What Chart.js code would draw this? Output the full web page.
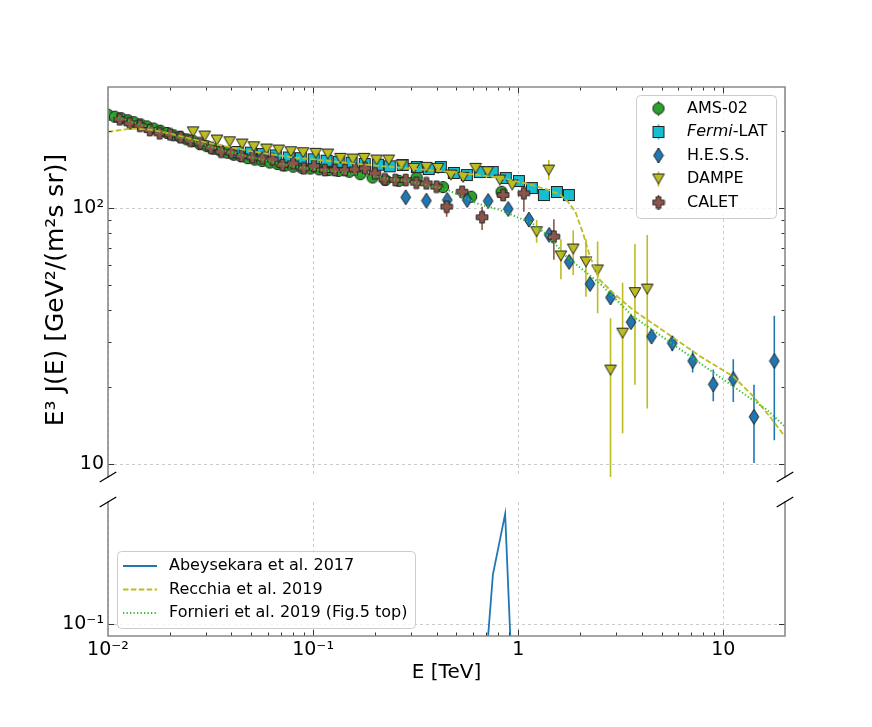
<!DOCTYPE html>
<html><head><meta charset="utf-8">
<script src="https://cdn.jsdelivr.net/npm/chart.js@4.4.1/dist/chart.umd.min.js"></script>
<style>
html,body{margin:0;padding:0;background:#fff;}
#wrap{position:relative;width:872px;height:727px;overflow:hidden;background:#fff;}
canvas{position:absolute;left:0;}
#c1{top:0;} #c2{top:490px;}
</style></head><body>
<div id="wrap"><canvas id="c1" width="872" height="490"></canvas><canvas id="c2" width="872" height="237"></canvas></div>
<script>
// ---------------- DATA (E in TeV, E^3 J(E) in GeV^2/(m^2 s sr)) ----------------
const amsE = [0.0100,0.0108,0.0116,0.0125,0.0134,0.0144,0.0155,0.0167,0.0180,0.0194,0.0209,0.0225,0.0242,0.0261,0.0281,0.0303,0.0327,0.0353,0.0381,0.0411,0.0444,0.0480,0.0520,0.0565,0.0615,0.0670,0.0730,0.0800,0.0880,0.0970,0.1070,0.1190,0.1330,0.1500,0.1700,0.1950,0.2250,0.2620,0.3200,0.4300,0.5900,0.8300];
const amsF = [232,228,225,221,217,213,209,205,201,197,193,190,186,183,178,175,171,168,165,162,160,157,155,153,151,149,147,145.5,144,143,142,141,140,139,136,132,129,128,132,121,111,116];

const fermiE = [0.0429,0.0497,0.0568,0.0658,0.0761,0.0871,0.1007,0.1164,0.1333,0.154,0.1786,0.207,0.2364,0.2735,0.3206,0.3666,0.4197,0.4855,0.5619,0.650,0.7516,0.8703,1.008,1.166,1.335,1.545,1.767];
const fermiF = [166,165,163,161,158,157,155.5,153.5,152,150.7,149,148,146,147.6,145,142.4,145,137.4,134.9,138.6,138.6,131.3,127.8,120,112.7,115.8,112.7];

const hessE  = [0.283,0.357,0.451,0.564,0.714,0.894,1.128,1.416,1.773,2.24,2.82,3.55,4.47,5.64,7.09,8.94,11.19,14.12,17.74];
const hessF  = [110.4,107.1,107.8,107.8,106.8,99.4,90.3,78.7,61.7,50.6,44.8,35.9,31.5,29.7,25.3,20.5,21.5,15.3,25.3];
const hessLo = [null,null,null,null,null,null,null,null,null,null,null,null,null,27.6,22.8,17.6,17.5,10.1,12.4];
const hessHi = [null,null,null,null,null,null,null,null,null,null,null,null,null,31.6,27.8,23.4,25.7,20.4,38.0];

const dampeE  = [0.026,0.0296,0.034,0.0392,0.0451,0.0514,0.0593,0.068,0.0779,0.0894,0.103,0.118,0.136,0.156,0.1774,0.204,0.234,0.270,0.310,0.357,0.407,0.470,0.539,0.620,0.709,0.814,0.935,1.23,1.41,1.616,1.855,2.14,2.44,2.82,3.23,3.71,4.26];
const dampeF  = [199,191.6,184.9,182,178.3,174,170.5,169,166.4,164.9,164,163,156.8,155.8,156.8,154.4,154.4,147.6,143.3,144.6,143.3,134.9,132.2,143.3,139,129,123.3,81,141,65.1,69.3,61.7,57.4,23.3,32.5,46.8,48.3];
const dampeLo = [null,null,null,null,null,null,null,null,null,null,null,null,null,null,null,null,null,null,null,null,null,null,null,null,null,null,null,73.4,129,52.8,54.9,45.1,38.9,8.5,13.2,20.4,16.5];
const dampeHi = [null,null,null,null,null,null,null,null,null,null,null,null,null,null,null,null,null,null,null,null,null,null,null,null,null,null,null,90,154.4,75.7,81.8,75.7,74.1,37.2,51.2,72.5,78.7];

const caletE  = [0.0114,0.01276,0.0143,0.01597,0.01786,0.0201,0.0226,0.0252,0.0282,0.0317,0.0357,0.04,0.0448,0.0506,0.0566,0.0634,0.0709,0.0799,0.0901,0.101,0.114,0.1276,0.1428,0.16,0.179,0.200,0.2235,0.252,0.283,0.319,0.357,0.400,0.448,0.533,0.667,0.845,1.066,1.493];
const caletF  = [222.7,214.8,210.2,202.2,196.3,194.5,189.4,183.7,179.4,172.5,166.4,164.9,160.1,158.2,156.8,155.4,147.6,149.9,143.3,146.3,141.1,141.1,141.1,142,143.3,137,129.8,129,129,125.9,125.2,121.5,101.5,116.1,92.2,112.7,114.4,77.5];
const caletLo = [null,null,null,null,null,null,null,null,null,null,null,null,null,null,null,null,null,null,null,null,null,null,null,null,null,null,null,null,null,null,null,null,92.7,null,82.3,null,97,62.9];
const caletHi = [null,null,null,null,null,null,null,null,null,null,null,null,null,null,null,null,null,null,null,null,null,null,null,null,null,null,null,null,null,null,null,null,112.7,null,101.4,null,132.9,90.6];

const recchiaE = [0.010,0.013,0.016,0.020,0.030,0.050,0.080,0.120,0.200,0.300,0.500,0.800,1.10,1.40,1.60,1.75,1.90,2.07,2.24,2.50,2.91,3.64,5.30,7.70,11.2,14.0,16.9,20.0];
const recchiaF = [199,205,203,196,181,167,158,153,147,143,138,132,125,118,113,106,97,80,64.7,52.5,46.6,40,32.5,26.4,22.0,18.4,15.3,12.8];

const fornieriE = [0.010,0.020,0.030,0.050,0.080,0.120,0.200,0.300,0.454,0.627,0.814,1.00,1.18,1.40,1.72,2.50,3.64,5.30,7.70,11.2,16.3,20.0];
const fornieriF = [233,196,176,158,146,140,133,127,118,104.6,98.5,92,87,78,64.7,50.9,37.7,30.6,24.8,20.1,16.3,14.0];

const abeyE = [0.70,0.753,0.864,0.93];
const abeyF = [0.085,0.127,0.170,0.080];

// ticks
const xTicksAll = [0.01,0.02,0.03,0.04,0.05,0.06,0.07,0.08,0.09,0.1,0.2,0.3,0.4,0.5,0.6,0.7,0.8,0.9,1,2,3,4,5,6,7,8,9,10,20];
const xTicksMajor = [0.01,0.1,1,10];
const xTickLabels = ['10⁻²','10⁻¹','1','10'];
const yTopTicksAll = [10,20,30,40,50,60,70,80,90,100,200];
const yTopMajor = [10,100];
const yTopLabels = ['10','10²'];
const yBotTicks = [0.1];
const yBotLabels = ['10⁻¹'];
const yTitle = 'E³ J(E) [GeV²/(m²s sr)]';
const xTitle = 'E [TeV]';

// ---------------- STYLE ----------------
const FAM = "'DejaVu Sans', sans-serif";
Chart.defaults.font.family = FAM;
const GRID = '#bdbdbd', SPINE = '#8a8a8a', TICKC = '#333', EDGE = '#222';
const C = {ams:'#2ca02c', fermi:'#17becf', hess:'#1f77b4', dampe:'#bcbd22', calet:'#8c564b', forn:'#35c035'};

function mk(w,h,draw){const c=document.createElement('canvas');c.width=w;c.height=h;const g=c.getContext('2d');g.lineWidth=1;g.strokeStyle=EDGE;draw(g);return c;}
const mCircle = mk(14,14,g=>{g.beginPath();g.arc(7,7,5.6,0,2*Math.PI);g.fillStyle=C.ams;g.fill();g.stroke();});
const mSquare = mk(14,14,g=>{g.fillStyle=C.fermi;g.fillRect(1.5,1.5,11,11);g.strokeRect(1.5,1.5,11,11);});
const mDiamond = mk(12,17,g=>{g.beginPath();g.moveTo(6,1);g.lineTo(10.8,8.5);g.lineTo(6,16);g.lineTo(1.2,8.5);g.closePath();g.fillStyle=C.hess;g.fill();g.stroke();});
const mTri = mk(14,13,g=>{g.beginPath();g.moveTo(1.2,1.5);g.lineTo(12.8,1.5);g.lineTo(7,11.5);g.closePath();g.fillStyle=C.dampe;g.fill();g.stroke();});
const mPlus = mk(14,14,g=>{const c=7,a=2.3,b=5.8;g.beginPath();
  g.moveTo(c-a,c-b);g.lineTo(c+a,c-b);g.lineTo(c+a,c-a);g.lineTo(c+b,c-a);g.lineTo(c+b,c+a);g.lineTo(c+a,c+a);
  g.lineTo(c+a,c+b);g.lineTo(c-a,c+b);g.lineTo(c-a,c+a);g.lineTo(c-b,c+a);g.lineTo(c-b,c-a);g.lineTo(c-a,c-a);g.closePath();
  g.fillStyle=C.calet;g.fill();g.stroke();});

function pts(E,F){return E.map((e,i)=>({x:e,y:F[i]}));}

// ---------------- PLUGINS ----------------
const errPlugin = {id:'errbars', beforeDatasetsDraw(chart){
  const {ctx, chartArea:a, scales:{x,y}} = chart;
  ctx.save(); ctx.beginPath(); ctx.rect(a.left,a.top,a.right-a.left,a.bottom-a.top); ctx.clip();
  chart.data.datasets.forEach(ds=>{
    if(!ds.errLo) return;
    ctx.strokeStyle=ds.errColor; ctx.lineWidth=1.6; ctx.beginPath();
    ds.data.forEach((p,i)=>{const lo=ds.errLo[i],hi=ds.errHi[i]; if(lo==null||hi==null) return;
      const px=x.getPixelForValue(p.x); ctx.moveTo(px,y.getPixelForValue(lo)); ctx.lineTo(px,y.getPixelForValue(hi));});
    ctx.stroke();
  });
  ctx.restore();
}};

function framePlugin(o){ return {id:'frame_'+o.name, afterDraw(chart){
  const {ctx, chartArea:a, scales:{x,y}} = chart;
  ctx.save();
  ctx.strokeStyle=TICKC; ctx.lineWidth=1; ctx.beginPath();
  x.ticks.forEach(t=>{const v=t.value; const px=Math.round(x.getPixelForValue(v))+0.5;
    if(px<a.left+1||px>a.right-1) return; const L=xTicksMajor.includes(v)?6:3.5;
    if(o.xTop){ctx.moveTo(px,a.top);ctx.lineTo(px,a.top+L);}
    if(o.xBottom){ctx.moveTo(px,a.bottom);ctx.lineTo(px,a.bottom-L);} });
  y.ticks.forEach(t=>{const v=t.value; const py=Math.round(y.getPixelForValue(v))+0.5;
    if(py<a.top+1||py>a.bottom-1) return; const L=o.yMajor.includes(v)?6:3.5;
    ctx.moveTo(a.left,py);ctx.lineTo(a.left+L,py);ctx.moveTo(a.right,py);ctx.lineTo(a.right-L,py);});
  ctx.stroke();
  ctx.strokeStyle=SPINE; ctx.lineWidth=1.6; ctx.lineCap='square'; ctx.beginPath();
  ctx.moveTo(a.left,a.top);ctx.lineTo(a.left,a.bottom);ctx.moveTo(a.right,a.top);ctx.lineTo(a.right,a.bottom);
  if(o.xTop){ctx.moveTo(a.left,a.top);ctx.lineTo(a.right,a.top);}
  if(o.xBottom){ctx.moveTo(a.left,a.bottom);ctx.lineTo(a.right,a.bottom);}
  ctx.stroke();
  const by = o.breakAt==='bottom'?a.bottom:a.top;
  ctx.strokeStyle='#000'; ctx.lineWidth=1.3; ctx.lineCap='butt'; ctx.beginPath();
  [a.left,a.right].forEach(bx=>{ctx.moveTo(bx-8.3,by+5);ctx.lineTo(bx+8.3,by-5);});
  ctx.stroke();
  if(o.ylabel){ctx.save();ctx.translate(56,290);ctx.rotate(-Math.PI/2);ctx.fillStyle='#000';ctx.font='25px '+FAM;
    ctx.textAlign='center';ctx.textBaseline='middle';ctx.fillText(o.ylabel,0,0);ctx.restore();}
  if(o.legend) o.legend(ctx);
  ctx.restore();
}};}

function rrect(ctx,x,y,w,h,r){ctx.beginPath();ctx.moveTo(x+r,y);ctx.lineTo(x+w-r,y);ctx.arcTo(x+w,y,x+w,y+r,r);ctx.lineTo(x+w,y+h-r);ctx.arcTo(x+w,y+h,x+w-r,y+h,r);ctx.lineTo(x+r,y+h);ctx.arcTo(x,y+h,x,y+h-r,r);ctx.lineTo(x,y+r);ctx.arcTo(x,y,x+r,y,r);ctx.closePath();}

function legendTop(ctx){
  rrect(ctx,636.5,95.5,140,123,4); ctx.fillStyle='rgba(255,255,255,0.8)'; ctx.fill(); ctx.strokeStyle='#cccccc'; ctx.lineWidth=1; ctx.stroke();
  const rows=[[mCircle,C.ams,'AMS-02'],[mSquare,C.fermi,'Fermi'],[mDiamond,C.hess,'H.E.S.S.'],[mTri,C.dampe,'DAMPE'],[mPlus,C.calet,'CALET']];
  const ys=[108.5,132,155.5,179,202.5];
  rows.forEach((r,i)=>{const y=ys[i];
    ctx.strokeStyle=r[1]; ctx.lineWidth=1.6; ctx.beginPath(); ctx.moveTo(658.5,y-7.5); ctx.lineTo(658.5,y+7.5); ctx.stroke();
    ctx.drawImage(r[0],658.5-r[0].width/2,y-r[0].height/2);
    ctx.fillStyle='#000'; ctx.textBaseline='middle'; ctx.textAlign='left';
    if(r[2]==='Fermi'){ctx.font="italic 16px "+FAM; ctx.fillText('Fermi',687,y); const w=ctx.measureText('Fermi').width; ctx.font="16px "+FAM; ctx.fillText('-LAT',687+w,y);}
    else {ctx.font="16px "+FAM; ctx.fillText(r[2],687,y);}
  });
}
function legendBottom(ctx){
  rrect(ctx,117.5,61.5,298,77,4); ctx.fillStyle='rgba(255,255,255,0.8)'; ctx.fill(); ctx.strokeStyle='#cccccc'; ctx.lineWidth=1; ctx.stroke();
  const rows=[[C.hess,[],'Abeysekara et al. 2017'],[C.dampe,[5.5,2.4],'Recchia et al. 2019'],[C.forn,[1.3,2.2],'Fornieri et al. 2019 (Fig.5 top)']];
  const ys=[76,99.5,123];
  rows.forEach((r,i)=>{const y=ys[i];
    ctx.strokeStyle=r[0]; ctx.lineWidth=1.8; ctx.setLineDash(r[1]); ctx.beginPath(); ctx.moveTo(123,y); ctx.lineTo(157,y); ctx.stroke(); ctx.setLineDash([]);
    ctx.fillStyle='#000'; ctx.textBaseline='middle'; ctx.textAlign='left'; ctx.font="16px "+FAM; ctx.fillText(r[2],169,y);
  });
}

function gridColor(major){return c=>(c.tick && major.includes(c.tick.value))?GRID:'rgba(0,0,0,0)';}
function noPad(s){s.paddingTop=0;s.paddingBottom=0;s.paddingLeft=0;s.paddingRight=0;}

// ---------------- TOP PANEL ----------------
new Chart(document.getElementById('c1'),{
  type:'scatter',
  data:{datasets:[
    {label:'Fornieri et al. 2019 (Fig.5 top)',data:pts(fornieriE,fornieriF),showLine:true,borderColor:C.forn,borderWidth:2,borderDash:[1.3,2.2],pointRadius:0,order:0},
    {label:'Recchia et al. 2019',data:pts(recchiaE,recchiaF),showLine:true,borderColor:C.dampe,borderWidth:1.8,borderDash:[5.5,2.4],pointRadius:0,order:1},
    {label:'CALET',data:pts(caletE,caletF),pointStyle:mPlus,pointRadius:6,errLo:caletLo,errHi:caletHi,errColor:C.calet,order:2},
    {label:'DAMPE',data:pts(dampeE,dampeF),pointStyle:mTri,pointRadius:6,errLo:dampeLo,errHi:dampeHi,errColor:C.dampe,order:3},
    {label:'H.E.S.S.',data:pts(hessE,hessF),pointStyle:mDiamond,pointRadius:6,errLo:hessLo,errHi:hessHi,errColor:C.hess,order:4},
    {label:'Fermi-LAT',data:pts(fermiE,fermiF),pointStyle:mSquare,pointRadius:6,order:5},
    {label:'AMS-02',data:pts(amsE,amsF),pointStyle:mCircle,pointRadius:6,order:6}
  ]},
  options:{
    responsive:false, animation:false, devicePixelRatio:1,
    layout:{padding:{top:87,right:87,left:0,bottom:0}},
    plugins:{legend:{display:false},tooltip:{enabled:false}},
    scales:{
      x:{type:'logarithmic',min:0.01,max:20,
        afterBuildTicks:s=>{s.ticks=xTicksAll.map(v=>({value:v}));},
        ticks:{display:false},
        grid:{color:gridColor(xTicksMajor),lineWidth:0.8,drawTicks:false},
        border:{display:false,dash:[3,3]},
        afterFit:s=>{s.height=13;noPad(s);}},
      y:{type:'logarithmic',min:8.9,max:298,
        afterBuildTicks:s=>{s.ticks=yTopTicksAll.map(v=>({value:v}));},
        ticks:{autoSkip:false,color:'#000',font:{size:19,family:FAM},padding:4,
          callback:v=>{const i=yTopMajor.indexOf(v);return i>=0?yTopLabels[i]:'';}},
        grid:{color:gridColor(yTopMajor),lineWidth:0.8,drawTicks:false},
        border:{display:false,dash:[3,3]},
        afterFit:s=>{s.width=108;noPad(s);}}
    }
  },
  plugins:[errPlugin, framePlugin({name:'top',xTop:true,xBottom:false,yMajor:yTopMajor,breakAt:'bottom',legend:legendTop,ylabel:yTitle})]
});

// ---------------- BOTTOM PANEL ----------------
new Chart(document.getElementById('c2'),{
  type:'scatter',
  data:{datasets:[
    {label:'Abeysekara et al. 2017',data:pts(abeyE,abeyF),showLine:true,borderColor:C.hess,borderWidth:1.8,pointRadius:0}
  ]},
  options:{
    responsive:false, animation:false, devicePixelRatio:1,
    layout:{padding:{top:12,right:87,left:0,bottom:0}},
    plugins:{legend:{display:false},tooltip:{enabled:false}},
    scales:{
      x:{type:'logarithmic',min:0.01,max:20,
        afterBuildTicks:s=>{s.ticks=xTicksAll.map(v=>({value:v}));},
        ticks:{autoSkip:false,maxRotation:0,color:'#000',font:{size:19,family:FAM},padding:3,
          callback:v=>{const i=xTicksMajor.indexOf(v);return i>=0?xTickLabels[i]:'';}},
        grid:{color:gridColor(xTicksMajor),lineWidth:0.8,drawTicks:false},
        border:{display:false,dash:[3,3]},
        title:{display:true,text:xTitle,color:'#000',font:{size:20,family:FAM},padding:{top:0,bottom:42}},
        afterFit:s=>{s.height=91;noPad(s);}},
      y:{type:'logarithmic',min:0.0945,max:0.18,
        afterBuildTicks:s=>{s.ticks=yBotTicks.map(v=>({value:v}));},
        ticks:{autoSkip:false,color:'#000',font:{size:19,family:FAM},padding:4,
          callback:v=>{const i=yBotTicks.indexOf(v);return i>=0?yBotLabels[i]:'';}},
        grid:{color:gridColor(yBotTicks),lineWidth:0.8,drawTicks:false},
        border:{display:false,dash:[3,3]},
        afterFit:s=>{s.width=108;noPad(s);}}
    }
  },
  plugins:[framePlugin({name:'bot',xTop:false,xBottom:true,yMajor:yBotTicks,breakAt:'top',legend:legendBottom})]
});
</script>
</body></html>
